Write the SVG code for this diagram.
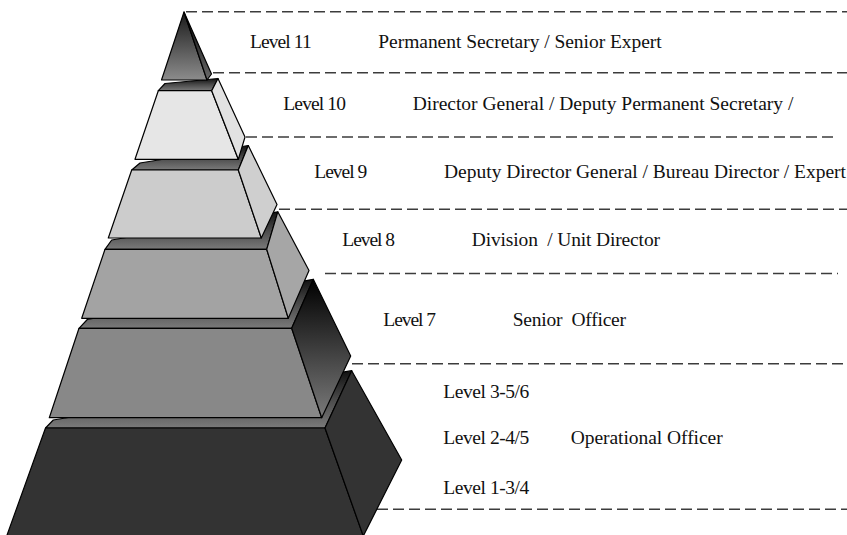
<svg xmlns="http://www.w3.org/2000/svg" width="847" height="535" viewBox="0 0 847 535">
  <style>
    .edge { stroke: #000; stroke-width: 1.2; stroke-linejoin: round; }
    .dash { stroke: #3c3c3c; stroke-width: 1.5; stroke-dasharray: 11 5; fill: none; }
    text { font-family: "Liberation Serif", "Times New Roman", serif; font-size: 19.5px; fill: #111; }
    .pre { white-space: pre; }
  </style>
  <defs>
    <linearGradient id="gTop" x1="0" y1="0" x2="0" y2="1">
      <stop offset="0" stop-color="#111"/>
      <stop offset="0.5" stop-color="#4a4a4a"/>
      <stop offset="1" stop-color="#7a7a7a"/>
    </linearGradient>
    <linearGradient id="gSide7" x1="0" y1="0" x2="0" y2="1">
      <stop offset="0" stop-color="#000"/>
      <stop offset="1" stop-color="#7a7a7a"/>
    </linearGradient>
    <linearGradient id="gFront11" x1="0" y1="0" x2="0" y2="1">
      <stop offset="0" stop-color="#1a1a1a"/>
      <stop offset="1" stop-color="#8c8c8c"/>
    </linearGradient>
    <linearGradient id="gSide11" x1="0" y1="0" x2="0" y2="1">
      <stop offset="0" stop-color="#000"/>
      <stop offset="1" stop-color="#6a6a6a"/>
    </linearGradient>
  </defs>

  <g id="connectors">
    <line class="dash" x1="186" y1="11.7" x2="847" y2="11.7"/>
    <line class="dash" x1="213" y1="72.7" x2="847" y2="72.7"/>
    <line class="dash" x1="246" y1="137" x2="838" y2="137"/>
    <line class="dash" x1="279" y1="209.3" x2="847" y2="209.3"/>
    <line class="dash" x1="325" y1="273.5" x2="838" y2="273.5"/>
    <line class="dash" x1="352" y1="363.7" x2="847" y2="363.7"/>
    <line class="dash" x1="377" y1="509.3" x2="847" y2="509.3"/>
  </g>

  <g id="tier-operational">
    <polygon class="edge" fill="url(#gTop)" points="45.5,428 53.3,420 351.7,370.7 325,428"/>
    <polygon class="edge" fill="#333333" points="45.5,428 325,428 363.3,536 6.7,536"/>
    <polygon class="edge" fill="#333333" points="325,428 351.7,370.7 401.7,460 363.3,536"/>
  </g>

  <g id="tier-level7">
    <polygon class="edge" fill="url(#gTop)" points="79,328.3 87.3,319.5 313.3,279.3 291.7,328.3"/>
    <polygon class="edge" fill="#888888" points="79,328.3 291.7,328.3 321.7,417.7 49.3,417.7"/>
    <polygon class="edge" fill="url(#gSide7)" points="291.7,328.3 313.3,279.3 350.7,356 321.7,417.7"/>
  </g>

  <g id="tier-level8">
    <polygon class="edge" fill="url(#gTop)" points="105,249.3 111.7,240 277.8,211.8 266.7,249.3"/>
    <polygon class="edge" fill="#a3a3a3" points="105,249.3 266.7,249.3 288.3,318.3 81.7,318.3"/>
    <polygon class="edge" fill="#a6a6a6" points="266.7,249.3 277.8,211.8 309,270.5 288.3,318.3"/>
  </g>

  <g id="tier-level9">
    <polygon class="edge" fill="url(#gTop)" points="131.7,170 140,163 248.3,145.5 238.3,170"/>
    <polygon class="edge" fill="#cccccc" points="131.7,170 238.3,170 261.3,238 108.3,238"/>
    <polygon class="edge" fill="#cfcfcf" points="238.3,170 248.3,145.5 277,204.5 261.3,238"/>
  </g>

  <g id="tier-level10">
    <polygon class="edge" fill="url(#gTop)" points="158.3,90.7 165,83.5 218,78.5 211.7,90.7"/>
    <polygon class="edge" fill="#e6e6e6" points="158.3,90.7 211.7,90.7 238.3,159.3 135,159.3"/>
    <polygon class="edge" fill="#e2e2e2" points="211.7,90.7 218,78.5 245,137 238.3,159.3"/>
  </g>

  <g id="tier-level11">
    <polygon class="edge" fill="url(#gFront11)" points="184,12 161.5,80 207,80"/>
    <polygon class="edge" fill="url(#gSide11)" points="184,12 211.5,74 207,80"/>
  </g>

  <g id="labels">
    <text x="250" y="47.7" textLength="61.7">Level 11</text>
    <text x="378.3" y="47.7" textLength="283.4">Permanent Secretary / Senior Expert</text>
    <text x="283.3" y="110" textLength="62.7">Level 10</text>
    <text x="412.7" y="110" textLength="380.6">Director General / Deputy Permanent Secretary /</text>
    <text x="314.3" y="178.3" textLength="53">Level 9</text>
    <text x="444" y="178.3" textLength="402">Deputy Director General / Bureau Director / Expert</text>
    <text x="342.3" y="246" textLength="52.7">Level 8</text>
    <text class="pre" x="471.7" y="246" textLength="188.3">Division  / Unit Director</text>
    <text x="383.3" y="326" textLength="52.7">Level 7</text>
    <text class="pre" x="512.7" y="326" textLength="113.3">Senior  Officer</text>
    <text x="443.3" y="398.3" textLength="86">Level 3-5/6</text>
    <text x="443.3" y="444" textLength="86">Level 2-4/5</text>
    <text x="570.7" y="444" textLength="152">Operational Officer</text>
    <text x="443.3" y="494" textLength="86">Level 1-3/4</text>
  </g>
</svg>
